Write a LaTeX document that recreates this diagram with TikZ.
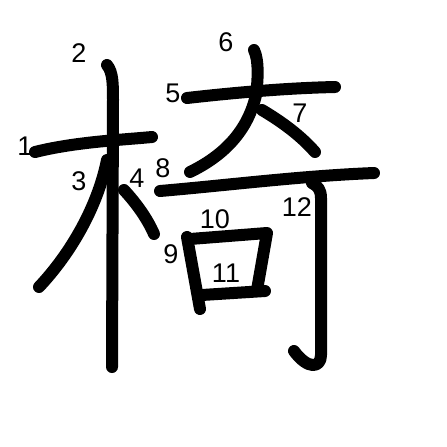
\documentclass[tikz,border=0pt]{standalone}
\usepackage{fontspec}
\setmainfont{Liberation Sans}
\usetikzlibrary{positioning}
\tikzset{
  kstroke/.style={line width=12pt,line cap=round,line join=round},
  num/.style={inner sep=0pt,font=\fontsize{27}{27}\selectfont}
}

\begin{document}
\begin{tikzpicture}[x=1pt,y=-1pt]
  \useasboundingbox (0,0) rectangle (447,447);
  % strokes of the left part
  \draw[kstroke] (35,152) .. controls (75,142) and (120,140) .. (152,137);
  \draw[kstroke] (107,65) .. controls (113,72) and (113,85) .. (113,100) -- (112,367);
  \draw[kstroke] (107,160) .. controls (98,205) and (72,252) .. (39,287);
  \draw[kstroke] (124,190) .. controls (136,203) and (147,218) .. (154,234);
  % strokes of the right part
  \draw[kstroke] (187,98) .. controls (240,92) and (290,88) .. (335,87);
  \draw[kstroke] (254,50) .. controls (259,60) and (258,80) .. (256,95)
                 .. controls (248,130) and (225,155) .. (190,172);
  \draw[kstroke] (262,110) .. controls (282,122) and (300,135) .. (315,152);
  \draw[kstroke] (160,191) .. controls (230,185) and (300,176) .. (374,173);
  \draw[kstroke] (187,237) -- (200,309);
  \draw[kstroke] (190,239) -- (267,233) -- (257,290);
  \draw[kstroke] (202,295) -- (265,291);
  \draw[kstroke] (312,183) .. controls (318,186) and (321,190) .. (321,198)
                 -- (321,355) .. controls (321,368) and (308,370) .. (294,351);
  % stroke numbers
  \node[num] (n1) at (25,146) {1};
  \node[num] (n2) at (79,53) {2};
  \node[num] (n3) at (79,181) {3};
  \node[num] (n4) at (137,178) {4};
  \node[num] (n5) at (173,93) {5};
  \node[num] (n6) at (226,42) {6};
  \node[num] (n7) at (300,113) {7};
  \node[num] (n8) at (163,168) {8};
  \node[num] (n9) at (171,254) {9};
  \node[num] (n10) at (215,219) {10};
  \node[num] (n11) at (226,273) {11};
  \node[num] (n12) at (297,207) {12};
\end{tikzpicture}
\end{document}
